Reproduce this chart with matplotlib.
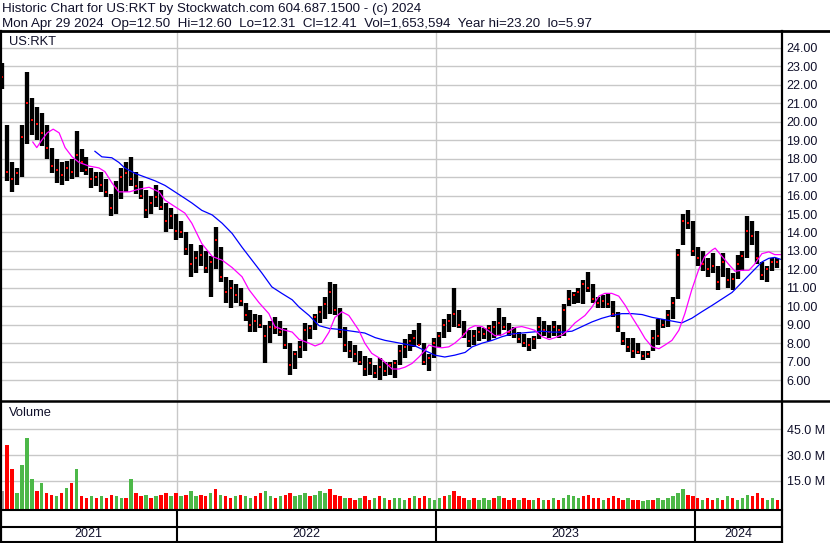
import matplotlib
matplotlib.use('Agg')
import matplotlib.pyplot as plt
from matplotlib.lines import Line2D
from matplotlib.ticker import FormatStrFormatter
import numpy as np
import pandas as pd

plt.rcParams['font.family'] = ['Liberation Sans', 'DejaVu Sans']

# 주간 봉 데이터 (week 0 = 2021-04-30)
start = pd.Timestamp('2021-04-30')
lows = [21.8, 16.8, 16.2, 16.6, 17.0, 18.8, 19.3, 19.0, 18.7, 18.0,
        17.2, 16.7, 16.6, 16.8, 16.9, 17.0, 17.3, 17.1, 16.4, 16.5,
        16.2, 15.9, 14.9, 15.0, 15.8, 16.2, 16.5, 16.1, 15.8, 14.8,
        15.0, 15.4, 15.2, 14.0, 14.2, 13.6, 13.7, 12.8, 11.6, 11.8,
        12.2, 11.8, 10.5, 12.0, 11.3, 10.2, 9.9, 10.2, 10.0, 9.2,
        8.6, 8.6, 8.8, 6.9, 8.0, 8.5, 8.4, 7.7, 6.3, 6.6,
        7.2, 7.6, 8.2, 8.7, 9.1, 9.3, 9.6, 9.5, 8.3, 7.5,
        7.2, 7.0, 6.8, 6.2, 6.3, 6.1, 6.0, 6.2, 6.3, 6.1,
        6.8, 7.2, 7.6, 7.8, 7.9, 6.8, 6.5, 7.2, 7.8, 8.3,
        8.6, 8.9, 8.8, 8.3, 7.8, 7.9, 8.1, 8.2, 8.1, 8.3,
        8.4, 8.7, 8.4, 8.3, 8.0, 7.8, 7.6, 7.7, 8.2, 8.4,
        8.3, 8.4, 8.3, 8.4, 10.0, 10.1, 10.2, 10.1, 10.8, 10.2,
        9.9, 9.9, 9.9, 9.4, 8.6, 7.9, 7.5, 7.2, 7.4, 7.1,
        7.2, 7.6, 7.9, 8.8, 8.9, 9.3, 10.4, 13.3, 14.2, 12.7,
        12.2, 11.9, 11.6, 11.8, 10.9, 11.6, 11.0, 10.9, 11.5, 11.9,
        12.6, 13.3, 12.3, 11.4, 11.3, 11.9, 12.1]
highs = [23.2, 19.8, 17.8, 17.5, 19.8, 22.7, 21.3, 20.8, 20.5, 19.8,
         18.6, 18.0, 17.8, 17.9, 18.0, 19.5, 18.5, 18.1, 17.5, 17.3,
         17.3, 16.9, 16.1, 16.8, 17.5, 17.8, 18.1, 17.3, 16.8, 16.3,
         16.0, 16.6, 16.3, 15.6, 15.3, 15.0, 14.6, 14.0, 13.4, 13.0,
         13.3, 13.0, 12.7, 14.3, 13.2, 11.6, 11.4, 11.2, 11.0, 10.2,
         9.8, 9.6, 9.5, 9.0, 9.2, 9.4, 9.2, 8.8, 8.0, 7.6,
         8.1, 9.1, 9.0, 9.6, 10.0, 10.5, 11.3, 11.2, 9.9, 8.9,
         8.1, 7.9, 7.6, 7.3, 7.2, 6.8, 7.2, 7.0, 7.0, 7.1,
         7.9, 8.2, 8.5, 8.7, 9.1, 8.0, 7.4, 8.3, 8.6, 9.3,
         9.6, 11.0, 9.8, 9.2, 8.7, 8.7, 8.9, 8.8, 9.0, 9.2,
         9.9, 9.4, 9.1, 8.9, 8.6, 8.5, 8.3, 8.4, 9.4, 9.2,
         9.0, 9.2, 9.0, 10.1, 10.9, 10.8, 11.0, 11.4, 11.85, 11.2,
         10.5, 10.6, 10.7, 10.3, 9.7, 8.6, 8.3, 8.3, 8.0, 7.6,
         7.6, 8.7, 9.3, 9.3, 9.8, 10.5, 13.1, 15.0, 15.2, 14.6,
         13.2, 13.0, 12.6, 12.9, 12.2, 12.9, 12.1, 11.8, 12.8, 13.0,
         14.9, 14.6, 14.1, 12.4, 12.2, 12.6, 12.6]
closes = [22.4, 17.3, 16.9, 17.2, 19.2, 21.0, 20.1, 19.9, 19.4, 18.6,
          17.6, 17.4, 17.1, 17.5, 17.3, 18.2, 17.8, 17.4, 16.9, 17.0,
          16.6, 16.2, 15.3, 16.4, 17.0, 17.2, 16.9, 16.5, 16.0, 15.2,
          15.6, 15.9, 15.4, 14.6, 14.9, 14.1, 14.0, 13.1, 12.3, 12.6,
          12.8, 12.1, 12.4, 13.6, 11.6, 10.8, 11.0, 10.6, 10.3, 9.5,
          9.0, 9.2, 9.0, 8.4, 8.9, 8.8, 8.6, 7.9, 6.8, 7.4,
          7.8, 8.7, 8.8, 9.4, 9.7, 10.1, 10.8, 9.8, 8.6, 7.9,
          7.6, 7.4, 7.0, 6.6, 6.9, 6.4, 6.7, 6.5, 6.8, 6.9,
          7.6, 7.8, 8.1, 8.3, 7.9, 7.0, 7.2, 8.0, 8.4, 9.0,
          9.2, 9.6, 9.0, 8.5, 8.1, 8.4, 8.6, 8.5, 8.8, 8.9,
          9.1, 8.9, 8.6, 8.5, 8.2, 8.0, 7.9, 8.2, 8.9, 8.7,
          8.6, 8.9, 8.7, 9.8, 10.4, 10.6, 10.8, 11.2, 11.0, 10.4,
          10.2, 10.3, 10.1, 9.6, 8.9, 8.1, 7.8, 7.6, 7.5, 7.3,
          7.4, 8.3, 8.4, 9.0, 9.5, 10.2, 12.8, 14.6, 14.5, 13.0,
          12.6, 12.3, 12.0, 12.2, 11.3, 12.4, 11.4, 11.5, 12.3, 12.7,
          14.1, 13.8, 12.6, 11.7, 12.0, 12.4, 12.41]

# 거래량 (백만주), 색: r=하락 g=상승 k=보합
vols = [9, 36, 22, 8, 24, 40, 16, 9, 14, 8,
        7, 6, 8, 11, 14, 22, 6, 5, 6, 5,
        6, 5, 7, 6, 5, 5, 16, 8, 6, 7,
        5, 6, 7, 8, 6, 8, 6, 7, 9, 6,
        7, 6, 8, 10, 7, 6, 5, 6, 7, 6,
        5, 6, 8, 9, 6, 5, 6, 7, 8, 6,
        7, 8, 6, 7, 9, 8, 10, 7, 6, 5,
        5, 4, 5, 6, 4, 5, 6, 5, 4, 5,
        5, 4, 5, 6, 5, 6, 5, 4, 5, 6,
        7, 9, 6, 5, 4, 5, 4, 5, 4, 5,
        6, 5, 4, 5, 4, 5, 4, 4, 5, 4,
        4, 5, 4, 5, 7, 6, 5, 6, 7, 5,
        5, 4, 5, 6, 5, 4, 5, 4, 4, 3,
        4, 4, 5, 4, 5, 6, 8, 10, 7, 6,
        5, 4, 5, 4, 5, 4, 6, 5, 4, 5,
        7, 6, 8, 5, 4, 5, 4]
vol_col = ("krrggggrgr" "rgrgrgrrgr" "grrggrgrrg" "rgrrgrgrgg" "rrgrgrrgrg"
           "grrggrgrrg" "ggrgggrrrg" "rrgrrgrgrg" "ggrgrrgggr" "grrrgrgggr"
           "grrrgrrgrg" "rgrggggrrr" "rgrrrrgrrg" "grggggggrr" "rgrrgrgrgg"
           "grrrggr")

# 이동평균선
ma1_wk = [6.2, 7.0, 8.0, 9.1, 10.3, 11.5, 12.7, 14.1, 15.5, 17.5, 19.5, 20.7, 22.1, 23.5,
          25.6, 27.6, 29.6, 31.6, 32.8, 34.8, 36.8, 38.2, 40.2, 42.3, 44.3, 46.3, 48.3,
          49.7, 51.7, 53.7, 54.9, 56.3, 58.4, 59.8, 61.8, 63.0, 64.4, 65.8, 67.0, 68.4,
          69.8, 71.8, 73.0, 74.4, 76.5, 78.5, 79.9, 81.1, 82.5, 83.9, 85.1, 85.9, 87.1,
          88.5, 89.9, 91.1, 92.6, 94.0, 95.2, 96.6, 98.0, 99.2, 100.6, 102.0, 103.2,
          104.6, 106.0, 107.2, 108.7, 110.1, 111.3, 112.7, 114.1, 115.3, 117.3, 118.7,
          120.1, 121.3, 122.7, 124.1, 125.4, 126.8, 128.2, 129.4, 130.8, 132.2, 133.4,
          134.8, 136.2, 137.4, 138.8, 140.2, 141.4, 142.9, 143.5, 144.9, 146.3, 147.5,
          148.9, 150.3, 151.5, 152.9, 154.3, 155.5, 156.6]
ma1 = [18.9, 18.6, 19.0, 19.4, 19.6, 19.4, 18.6, 18.1, 17.8, 17.6, 17.5, 17.3, 16.7, 16.2,
       16.2, 16.35, 16.45, 16.2, 15.75, 15.4, 15.05, 14.5, 13.4, 12.7, 12.5, 12.1, 11.6,
       10.9, 10.2, 9.6, 8.9, 8.75, 8.6, 8.2, 8.0, 7.85, 8.0, 8.6, 9.4, 9.7,
       9.5, 8.7, 8.0, 7.45, 7.1, 6.6, 6.6, 6.7, 6.9, 7.25, 7.6, 7.9, 7.8,
       7.75, 7.8, 8.0, 8.35, 8.8, 8.95, 8.9, 8.65, 8.4, 8.45, 8.65, 8.85,
       8.9, 8.8, 8.7, 8.35, 8.2, 8.3, 8.45, 8.75, 9.1, 9.5, 9.95,
       10.55, 10.7, 10.7, 10.55, 10.05, 9.4, 8.8, 8.25, 7.8, 7.7, 7.9,
       8.15, 8.7, 9.6, 10.9, 12.0, 12.7, 13.05, 13.15, 12.7, 12.25, 11.9,
       11.95, 11.95, 12.3, 12.85, 12.95, 12.8, 12.8]
ma2_wk = [18.7, 20.1, 22.1, 23.5, 24.7, 26.8, 28.8, 30.8, 32.8, 34.8, 36.8, 38.2, 40.2,
          42.3, 44.3, 46.3, 48.3, 50.3, 52.3, 54.3, 56.3, 58.4, 59.8, 61.8, 63.8, 65.8,
          67.8, 70.4, 73.0, 75.1, 77.1, 79.1, 81.1, 83.1, 85.1, 87.1, 89.1, 91.1, 93.2,
          94.6, 96.6, 98.6, 100.6, 102.6, 104.6, 106.6, 108.7, 110.7, 112.7, 114.7,
          116.7, 118.7, 120.7, 122.7, 124.7, 126.8, 128.8, 130.8, 132.8, 134.8, 136.8,
          138.8, 140.8, 142.9, 144.9, 146.9, 148.9, 150.9, 152.9, 154.3, 155.5, 156.6]
ma2 = [18.4, 18.1, 18.05, 17.8, 17.5, 17.2, 17.0, 16.8, 16.55, 16.2, 15.85, 15.6, 15.2,
       14.95, 14.5, 13.95, 13.2, 12.5, 11.8, 11.05, 10.7, 10.35, 9.95, 9.5, 8.95, 8.8,
       8.75, 8.65, 8.55, 8.3, 8.15, 8.05, 7.95, 7.85, 7.6, 7.35, 7.25, 7.35, 7.5,
       7.8, 8.0, 8.15, 8.35, 8.5, 8.55, 8.6, 8.65, 8.6, 8.6, 8.65,
       8.9, 9.15, 9.35, 9.5, 9.6, 9.6, 9.55, 9.4, 9.3, 9.2, 9.1,
       9.35, 9.7, 10.05, 10.4, 10.75, 11.3, 11.85, 12.4, 12.6, 12.65, 12.55]

years = ['2021', '2022', '2023', '2024']
price_ticks = np.arange(6, 25)
vol_ticks = [15, 30, 45]
title1 = 'Historic Chart for US:RKT by Stockwatch.com 604.687.1500 - (c) 2024'
title2 = ('Mon Apr 29 2024  Op=12.50  Hi=12.60  Lo=12.31  Cl=12.41  '
          'Vol=1,653,594  Year hi=23.20  lo=5.97')

W, H = 830, 543
def fx(p): return p / W
def fy(p): return 1 - p / H

grid_c = '#c8c8c8'
txt_c = '#10102a'
wk = np.arange(len(lows))
xl = (-0.4, 156.75)
year_wk = [(pd.Timestamp(y + '-01-01') - start).days / 7 for y in years[1:]]

fig = plt.figure(figsize=(8.3, 5.43), dpi=100)

# 가격 차트
ax = fig.add_axes([0, fy(400), fx(781), (400 - 31) / H])
ax.set_xlim(*xl)
ax.set_ylim(4.92, 24.92)
ax.set_yticks(price_ticks)
ax.yaxis.set_major_formatter(FormatStrFormatter('%.2f'))
ax.yaxis.tick_right()
ax.tick_params(axis='y', length=0, pad=4, labelsize=9, labelcolor=txt_c)
ax.set_xticks([])
ax.grid(axis='y', color=grid_c, lw=1)
for yw in year_wk:
    ax.axvline(yw, color=grid_c, lw=1)
for s in ax.spines.values():
    s.set_visible(False)
ax.vlines(wk, lows, highs, color='black', lw=3.1, zorder=3)
ax.plot(wk, closes, 's', color='red', ms=2, mew=0, zorder=4)
ax.plot(ma2_wk, ma2, color='#0000ff', lw=0.9, zorder=5)
ax.plot(ma1_wk, ma1, color='#ff00ff', lw=0.9, zorder=5)

# 거래량
vax = fig.add_axes([0, fy(510), fx(781), (510 - 402) / H])
vax.set_xlim(*xl)
vlo = -2
vax.set_ylim(vlo, 61)
vax.set_yticks(vol_ticks)
vax.set_yticklabels(['%.1f M' % v for v in vol_ticks])
vax.yaxis.tick_right()
vax.tick_params(axis='y', length=0, pad=4, labelsize=9, labelcolor=txt_c)
vax.set_xticks([])
vax.grid(axis='y', color=grid_c, lw=1)
for yw in year_wk:
    vax.axvline(yw, color=grid_c, lw=1)
for s in vax.spines.values():
    s.set_visible(False)
cmap = {'r': '#ff0000', 'g': '#4cb848', 'k': '#a0a0a0'}
vax.bar(wk, np.array(vols) - vlo, bottom=vlo, width=0.7,
        color=[cmap[c] for c in vol_col], zorder=3)

# 날짜 줄
dax = fig.add_axes([0, fy(542), fx(781), (542 - 510) / H])
dax.set_xlim(*xl)
dax.set_ylim(0, 1)
dax.axis('off')
for yw in year_wk:
    dax.axvline(yw, color='black', lw=1.5)
edges = [xl[0]] + year_wk + [xl[1]]
for i, y in enumerate(years):
    dax.text((edges[i] + edges[i + 1]) / 2, 0.24, y, ha='center', va='center',
             fontsize=9, color=txt_c)

# 테두리
def hline(y, x0, x1, lw=1.5):
    fig.add_artist(Line2D([fx(x0), fx(x1)], [fy(y), fy(y)], color='black', lw=lw))
def vline(x, y0, y1, lw=1.5):
    fig.add_artist(Line2D([fx(x), fx(x)], [fy(y0), fy(y1)], color='black', lw=lw))

hline(31, 0, 830, 2.0)
hline(401, 0, 830, 1.8)
hline(510, 0, 782)
hline(527, 0, 782)
hline(542, 0, 782)
vline(0.8, 31, 543, 1.6)
vline(781.5, 31, 543, 1.6)

fig.text(fx(2), fy(9), title1, fontsize=9.6, color=txt_c, va='center')
fig.text(fx(2), fy(24), title2, fontsize=9.6, color=txt_c, va='center')
fig.text(fx(9), fy(42), 'US:RKT', fontsize=9.3, color=txt_c, va='center')
fig.text(fx(9), fy(413), 'Volume', fontsize=9.3, color=txt_c, va='center')

fig.savefig('out.png', dpi=100)
